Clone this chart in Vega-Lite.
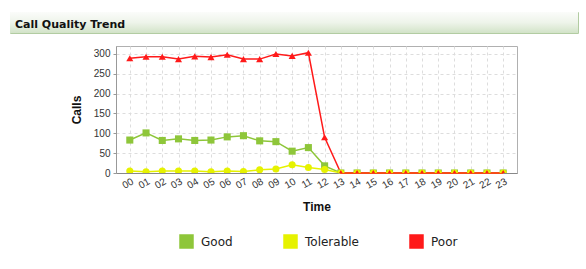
{
  "$schema": "https://vega.github.io/schema/vega-lite/v6.json",
  "background": "white",
  "padding": {"left": 9, "top": 11, "right": 0, "bottom": 0},
  "autosize": {"type": "pad"},
  "spacing": 11,
  "vconcat": [
    {
      "width": 568,
      "height": 21,
      "view": {"stroke": "#b2cca2", "strokeWidth": 1},
      "data": {"values": [{"t": "Call Quality Trend"}]},
      "mark": {
        "type": "rect",
        "color": {
          "gradient": "linear",
          "x1": 0, "y1": 0, "x2": 0, "y2": 1,
          "stops": [
            {"offset": 0, "color": "#fbfcfa"},
            {"offset": 0.5, "color": "#eef4ea"},
            {"offset": 1, "color": "#d2e3c8"}
          ]
        }
      },
      "title": {
        "text": "Call Quality Trend",
        "anchor": "start",
        "frame": "group",
        "offset": -18,
        "dx": 5,
        "font": "DejaVu Sans",
        "fontSize": 11,
        "fontWeight": "bold",
        "color": "#111111"
      }
    },
    {
      "spacing": 0,
      "hconcat": [
        {
          "width": 59,
          "height": 10,
          "view": {"stroke": null},
          "data": {"values": []},
          "mark": "text"
        },
        {
          "width": 401,
          "height": 127,
          "view": {"stroke": "#b0b0b0", "strokeWidth": 1},
          "data": {
            "values": [
              {"h": "00", "s": "Good", "v": 83}, {"h": "01", "s": "Good", "v": 101}, {"h": "02", "s": "Good", "v": 82}, {"h": "03", "s": "Good", "v": 86},
              {"h": "04", "s": "Good", "v": 82}, {"h": "05", "s": "Good", "v": 83}, {"h": "06", "s": "Good", "v": 91}, {"h": "07", "s": "Good", "v": 94},
              {"h": "08", "s": "Good", "v": 81}, {"h": "09", "s": "Good", "v": 79}, {"h": "10", "s": "Good", "v": 55}, {"h": "11", "s": "Good", "v": 64},
              {"h": "12", "s": "Good", "v": 18}, {"h": "13", "s": "Good", "v": 0}, {"h": "14", "s": "Good", "v": 0}, {"h": "15", "s": "Good", "v": 0},
              {"h": "16", "s": "Good", "v": 0}, {"h": "17", "s": "Good", "v": 0}, {"h": "18", "s": "Good", "v": 0}, {"h": "19", "s": "Good", "v": 0},
              {"h": "20", "s": "Good", "v": 0}, {"h": "21", "s": "Good", "v": 0}, {"h": "22", "s": "Good", "v": 0}, {"h": "23", "s": "Good", "v": 0},
              {"h": "00", "s": "Tolerable", "v": 5}, {"h": "01", "s": "Tolerable", "v": 3}, {"h": "02", "s": "Tolerable", "v": 5}, {"h": "03", "s": "Tolerable", "v": 5},
              {"h": "04", "s": "Tolerable", "v": 5}, {"h": "05", "s": "Tolerable", "v": 3}, {"h": "06", "s": "Tolerable", "v": 5}, {"h": "07", "s": "Tolerable", "v": 4},
              {"h": "08", "s": "Tolerable", "v": 8}, {"h": "09", "s": "Tolerable", "v": 10}, {"h": "10", "s": "Tolerable", "v": 21}, {"h": "11", "s": "Tolerable", "v": 14},
              {"h": "12", "s": "Tolerable", "v": 9}, {"h": "13", "s": "Tolerable", "v": 0}, {"h": "14", "s": "Tolerable", "v": 0}, {"h": "15", "s": "Tolerable", "v": 0},
              {"h": "16", "s": "Tolerable", "v": 0}, {"h": "17", "s": "Tolerable", "v": 0}, {"h": "18", "s": "Tolerable", "v": 0}, {"h": "19", "s": "Tolerable", "v": 0},
              {"h": "20", "s": "Tolerable", "v": 0}, {"h": "21", "s": "Tolerable", "v": 0}, {"h": "22", "s": "Tolerable", "v": 0}, {"h": "23", "s": "Tolerable", "v": 0},
              {"h": "00", "s": "Poor", "v": 289}, {"h": "01", "s": "Poor", "v": 293}, {"h": "02", "s": "Poor", "v": 293}, {"h": "03", "s": "Poor", "v": 287},
              {"h": "04", "s": "Poor", "v": 294}, {"h": "05", "s": "Poor", "v": 292}, {"h": "06", "s": "Poor", "v": 298}, {"h": "07", "s": "Poor", "v": 287},
              {"h": "08", "s": "Poor", "v": 287}, {"h": "09", "s": "Poor", "v": 300}, {"h": "10", "s": "Poor", "v": 295}, {"h": "11", "s": "Poor", "v": 303},
              {"h": "12", "s": "Poor", "v": 90}, {"h": "13", "s": "Poor", "v": 0}, {"h": "14", "s": "Poor", "v": 0}, {"h": "15", "s": "Poor", "v": 0},
              {"h": "16", "s": "Poor", "v": 0}, {"h": "17", "s": "Poor", "v": 0}, {"h": "18", "s": "Poor", "v": 0}, {"h": "19", "s": "Poor", "v": 0},
              {"h": "20", "s": "Poor", "v": 0}, {"h": "21", "s": "Poor", "v": 0}, {"h": "22", "s": "Poor", "v": 0}, {"h": "23", "s": "Poor", "v": 0}
            ]
          },
          "encoding": {
            "x": {
              "field": "h",
              "type": "ordinal",
              "sort": null,
              "title": "Time",
              "scale": {"type": "point", "padding": 0.85},
              "axis": {
                "labelAngle": -30,
                "labelFont": "Liberation Sans",
                "labelFontSize": 10,
                "labelColor": "#333333",
                "labelPadding": 3,
                "ticks": false,
                "domainColor": "#888888",
                "grid": true,
                "gridDash": [3, 3],
                "gridColor": "#dddddd",
                "titleFont": "Liberation Sans",
                "titleFontSize": 12,
                "titleFontWeight": "bold",
                "titleColor": "#111111",
                "titlePadding": 11
              }
            },
            "y": {
              "field": "v",
              "type": "quantitative",
              "title": "Calls",
              "scale": {"domain": [0, 320], "nice": false},
              "axis": {
                "values": [0, 50, 100, 150, 200, 250, 300],
                "labelFont": "Liberation Sans",
                "labelFontSize": 10,
                "labelColor": "#333333",
                "labelPadding": 3,
                "tickSize": 3,
                "tickColor": "#999999",
                "domainColor": "#999999",
                "grid": true,
                "gridDash": [3, 3],
                "gridColor": "#dddddd",
                "titleFont": "Liberation Sans",
                "titleFontSize": 12,
                "titleFontWeight": "bold",
                "titleColor": "#111111",
                "titlePadding": 10
              }
            },
            "color": {
              "field": "s",
              "type": "nominal",
              "scale": {"domain": ["Good", "Tolerable", "Poor"], "range": ["#8ec63a", "#e6f200", "#ff1a1a"]},
              "legend": {
                "orient": "none",
                "direction": "horizontal",
                "legendX": 169,
                "legendY": 222,
                "title": null,
                "symbolType": "square",
                "symbolSize": 169,
                "symbolOpacity": 1,
                "symbolStrokeColor": "#888888",
                "symbolStrokeWidth": 1.5,
                "labelFont": "DejaVu Sans",
                "labelFontSize": 12,
                "labelColor": "#222222",
                "labelOffset": 7,
                "columnPadding": 48,
                "padding": 0
              }
            }
          },
          "layer": [
            {
              "transform": [{"filter": "datum.v < 0"}],
              "mark": {"type": "square", "filled": true, "size": 0, "stroke": "#888888", "strokeWidth": 1.5}
            },
            {
              "mark": {"type": "line", "strokeWidth": 1.5}
            },
            {
              "transform": [{"filter": "datum.s == 'Good'"}],
              "mark": {"type": "point", "shape": "square", "filled": true, "size": 50, "opacity": 1, "clip": true}
            },
            {
              "transform": [{"filter": "datum.s == 'Tolerable'"}],
              "mark": {"type": "point", "shape": "circle", "filled": true, "size": 50, "opacity": 1, "clip": true}
            },
            {
              "transform": [{"filter": "datum.s == 'Poor'"}],
              "mark": {"type": "point", "shape": "triangle-up", "filled": true, "size": 50, "opacity": 1, "clip": true}
            }
          ]
        }
      ]
    }
  ]
}
